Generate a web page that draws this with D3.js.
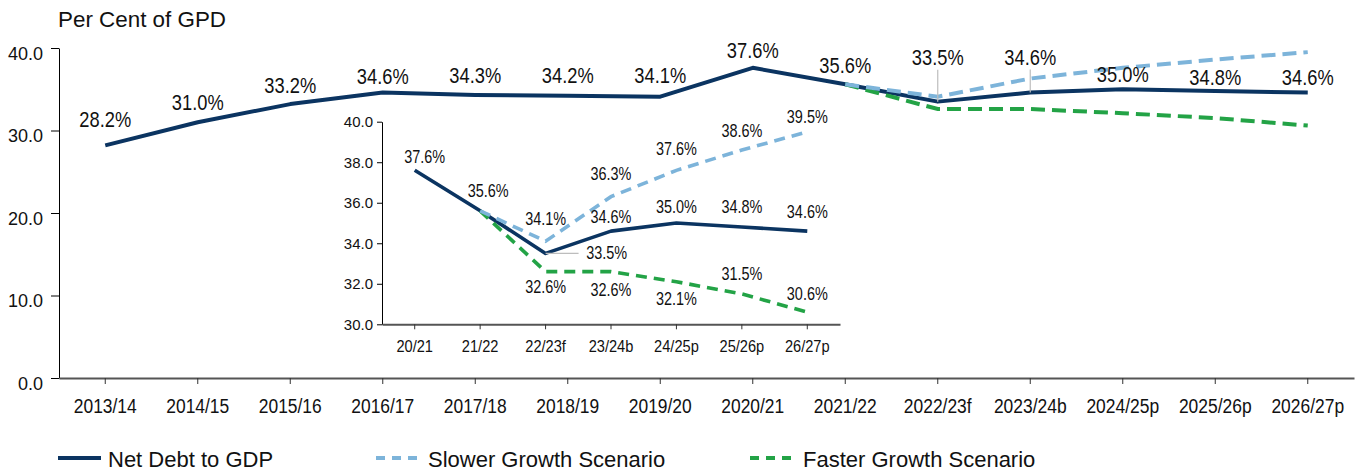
<!DOCTYPE html>
<html>
<head>
<meta charset="utf-8">
<script src="https://cdn.jsdelivr.net/npm/d3@7"></script>
<style>
  html, body { margin: 0; padding: 0; background: #fff; }
  svg { display: block; }
  text { font-family: "Liberation Sans", Arial, sans-serif; fill: #111; }
</style>
</head>
<body>
<svg id="chart" width="1359" height="471"></svg>
<script>
// ---------- data ----------
const categories = ["2013/14","2014/15","2015/16","2016/17","2017/18","2018/19","2019/20","2020/21","2021/22","2022/23f","2023/24b","2024/25p","2025/26p","2026/27p"];
const netDebt = [28.2,31.0,33.2,34.6,34.3,34.2,34.1,37.6,35.6,33.5,34.6,35.0,34.8,34.6];
const scenarioCategories = ["2021/22","2022/23f","2023/24b","2024/25p","2025/26p","2026/27p"];
const slowerGrowth = [35.6,34.1,36.3,37.6,38.6,39.5];
const fasterGrowth = [35.6,32.6,32.6,32.1,31.5,30.6];
const yTicks = [0,10,20,30,40];

const insetCategories = ["20/21","21/22","22/23f","23/24b","24/25p","25/26p","26/27p"];
const insetNetDebt = [37.6,35.6,33.5,34.6,35.0,34.8,34.6];
const insetSlower = [null,35.6,34.1,36.3,37.6,38.6,39.5];
const insetFaster = [null,35.6,32.6,32.6,32.1,31.5,30.6];
const insetYTicks = [30,32,34,36,38,40];

const seriesNames = ["Net Debt to GDP","Slower Growth Scenario","Faster Growth Scenario"];
const title = "Per Cent of GPD";

// ---------- layout (label offsets in px) ----------
const mainLabelDy = [-18,-12,-11,-9,-12,-13,-14,-10,-11,-37,-28,-7.5,-6,-7.5];
const mainLeader = [false,false,false,false,false,false,false,false,false,true,true,false,false,false];
const insetNetDx = [10,8,61,0,0,0,0];
const insetNetDy = [-7.6,-14,5.6,-8,-10,-14,-13];
const insetSlowerDy = [null,null,-16,-17,-15,-13,-9];
const insetFasterDy = [null,null,21,24,23,-14,-12];

const COL_NAVY = "#0b3461", COL_LIGHT = "#7db4da", COL_GREEN = "#23a346";

const svg = d3.select("#chart");
const fmtPct = d => d.toFixed(1) + "%";

function label(g, x, y, txt, size, sx, anchor) {
  return g.append("text")
    .attr("transform", `translate(${x},${y}) scale(${sx},1)`)
    .attr("text-anchor", anchor || "middle")
    .style("font-size", size + "px")
    .text(txt);
}

// ---------- main chart ----------
const x = d3.scaleBand().domain(categories).range([59, 1354]).padding(0);
const cx = c => x(c) + x.bandwidth() / 2;
const y = d3.scaleLinear().domain([0, 40]).range([378, 48]);

svg.append("text").attr("x", 58).attr("y", 26.5).style("font-size", "22.4px").text(title);

// y axis
const yAxis = svg.append("g").attr("transform", "translate(59,0)")
  .call(d3.axisLeft(y).tickValues(yTicks).tickFormat(d3.format(".1f")).tickSize(8).tickSizeOuter(0));
yAxis.select(".domain").attr("stroke", "#000");
yAxis.selectAll(".tick line").attr("stroke", "#000");
yAxis.selectAll(".tick text").attr("x", -16).attr("dy", 0).attr("y", 11.3)
  .style("font-size", "18px").attr("fill", "#111");

// x axis
const xAxis = svg.append("g").attr("transform", "translate(0,378)")
  .call(d3.axisBottom(x).tickSize(6).tickSizeOuter(0));
xAxis.select(".domain").attr("stroke", "#555").attr("stroke-width", 2);
xAxis.selectAll(".tick line").attr("stroke", "#333");
xAxis.selectAll(".tick text").attr("y", null).attr("dy", null)
  .attr("transform", "translate(0,35.3) scale(0.83,1)")
  .style("font-size", "21px").attr("fill", "#111");

const lineMain = d3.line().x((d, i) => cx(categories[i])).y(d => y(d));
const lineScen = d3.line().x((d, i) => cx(scenarioCategories[i])).y(d => y(d));

svg.append("path").datum(netDebt).attr("d", lineMain)
  .attr("fill", "none").attr("stroke", COL_NAVY).attr("stroke-width", 4).attr("stroke-linejoin", "round");
svg.append("path").datum(fasterGrowth).attr("d", lineScen)
  .attr("fill", "none").attr("stroke", COL_GREEN).attr("stroke-width", 4).attr("stroke-dasharray", "14,7");
svg.append("path").datum(slowerGrowth).attr("d", lineScen)
  .attr("fill", "none").attr("stroke", COL_LIGHT).attr("stroke-width", 4).attr("stroke-dasharray", "14,7");

const mainLabels = svg.append("g");
netDebt.forEach((v, i) => {
  const px = cx(categories[i]), py = y(v);
  const by = py + mainLabelDy[i];
  if (mainLeader[i]) {
    mainLabels.append("line").attr("x1", px).attr("x2", px).attr("y1", by + 5).attr("y2", py)
      .attr("stroke", "#bdbdbd").attr("stroke-width", 1.2);
  }
  label(mainLabels, px, by, fmtPct(v), 21.5, 0.85);
});

// ---------- inset ----------
const inset = svg.append("g");
const ix = d3.scaleBand().domain(insetCategories).range([382, 840]).padding(0);
const icx = c => ix(c) + ix.bandwidth() / 2;
const iy = d3.scaleLinear().domain([30, 40]).range([324.3, 121.7]);

inset.append("rect").attr("x", 382).attr("y", 118).attr("width", 460).attr("height", 206).attr("fill", "#fff");

const iyAxis = inset.append("g").attr("transform", "translate(382,0)")
  .call(d3.axisLeft(iy).tickValues(insetYTicks).tickFormat(d3.format(".1f")).tickSize(5).tickSizeOuter(0));
iyAxis.select(".domain").attr("stroke", "#000");
iyAxis.selectAll(".tick line").attr("stroke", "#000");
iyAxis.selectAll(".tick text").attr("x", -9).style("font-size", "15px").attr("fill", "#111");

const ixAxis = inset.append("g").attr("transform", "translate(0,324.3)")
  .call(d3.axisBottom(ix).tickSize(5).tickSizeOuter(0));
ixAxis.select(".domain").attr("stroke", "#555").attr("stroke-width", 2);
ixAxis.selectAll(".tick line").attr("stroke", "#333");
ixAxis.selectAll(".tick text").attr("y", null).attr("dy", null)
  .attr("transform", "translate(0,27.4) scale(0.86,1)")
  .style("font-size", "17px").attr("fill", "#111");

const iline = d3.line().defined(d => d != null).x((d, i) => icx(insetCategories[i])).y(d => iy(d));
inset.append("path").datum(insetNetDebt).attr("d", iline)
  .attr("fill", "none").attr("stroke", COL_NAVY).attr("stroke-width", 3.6).attr("stroke-linejoin", "round");
inset.append("path").datum(insetFaster).attr("d", iline)
  .attr("fill", "none").attr("stroke", COL_GREEN).attr("stroke-width", 3.6).attr("stroke-dasharray", "11,7");
inset.append("path").datum(insetSlower).attr("d", iline)
  .attr("fill", "none").attr("stroke", COL_LIGHT).attr("stroke-width", 3.6).attr("stroke-dasharray", "11,7");

insetNetDebt.forEach((v, i) => {
  const px = icx(insetCategories[i]), py = iy(v);
  if (i === 2) {
    inset.append("line").attr("x1", px).attr("x2", px + 33).attr("y1", py).attr("y2", py)
      .attr("stroke", "#bdbdbd").attr("stroke-width", 1.2);
  }
  label(inset, px + insetNetDx[i], py + insetNetDy[i], fmtPct(v), 18.5, 0.78);
});
insetSlower.forEach((v, i) => {
  if (v == null || insetSlowerDy[i] == null) return;
  label(inset, icx(insetCategories[i]), iy(v) + insetSlowerDy[i], fmtPct(v), 18.5, 0.78);
});
insetFaster.forEach((v, i) => {
  if (v == null || insetFasterDy[i] == null) return;
  label(inset, icx(insetCategories[i]), iy(v) + insetFasterDy[i], fmtPct(v), 18.5, 0.78);
});

// ---------- legend ----------
const legendItems = [
  { name: seriesNames[0], color: COL_NAVY, dash: null, x1: 58, x2: 101, tx: 108 },
  { name: seriesNames[1], color: COL_LIGHT, dash: "9,7", x1: 376, x2: 420, tx: 428 },
  { name: seriesNames[2], color: COL_GREEN, dash: "9,7", x1: 750, x2: 795, tx: 803 }
];
const legend = svg.append("g");
legendItems.forEach(it => {
  legend.append("line").attr("x1", it.x1).attr("x2", it.x2).attr("y1", 458).attr("y2", 458)
    .attr("stroke", it.color).attr("stroke-width", 4).attr("stroke-dasharray", it.dash);
  legend.append("text").attr("x", it.tx).attr("y", 466.5).style("font-size", "22px").text(it.name);
});
</script>
</body>
</html>
